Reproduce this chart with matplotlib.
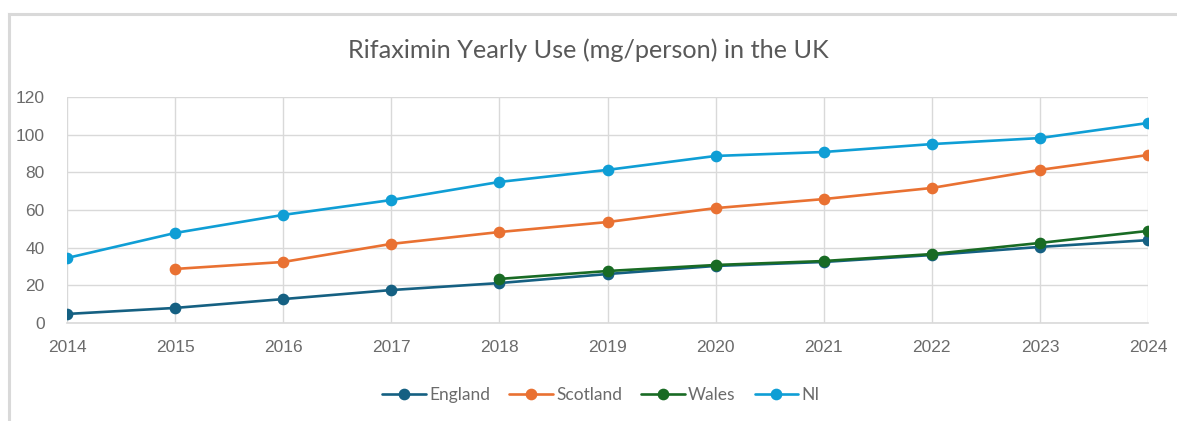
import matplotlib.pyplot as plt
from matplotlib.lines import Line2D

years = [2014, 2015, 2016, 2017, 2018, 2019, 2020, 2021, 2022, 2023, 2024]
england = [4.8, 8.0, 12.7, 17.5, 21.2, 26.0, 30.3, 32.4, 36.1, 40.4, 44.0]
scotland = [None, 28.7, 32.4, 42.0, 48.3, 53.6, 61.0, 65.8, 71.7, 81.3, 89.2]
wales = [None, None, None, None, 23.4, 27.6, 30.8, 32.9, 36.6, 42.5, 48.9]
ni = [34.5, 47.8, 57.4, 65.3, 74.9, 81.3, 88.7, 90.8, 95.0, 98.2, 106.2]

series_names = ["England", "Scotland", "Wales", "NI"]
series_values = [england, scotland, wales, ni]
series_colors = ["#156082", "#E97132", "#196B24", "#0F9ED5"]
y_ticks = [0, 20, 40, 60, 80, 100, 120]

plt.rcParams['font.family'] = ['Lato', 'DejaVu Sans']

W, H = 1177, 421
fig = plt.figure(figsize=(W / 100, H / 100), dpi=100)

# chart frame (top and left edges)
fig.add_artist(Line2D([9 / W, 1.0], [1 - 14 / H, 1 - 14 / H], color="#d9d9d9", lw=2.2))
fig.add_artist(Line2D([9 / W, 9 / W], [0, 1 - 14 / H], color="#d9d9d9", lw=2.2))

left, right, top, bottom = 67, 1148, 97, 323
ax = fig.add_axes([left / W, 1 - bottom / H, (right - left) / W, (bottom - top) / H])

for name, vals, col in zip(series_names, series_values, series_colors):
    xs = [x for x, v in zip(years, vals) if v is not None]
    ys = [v for v in vals if v is not None]
    ax.plot(xs, ys, color=col, lw=1.9, marker="o", markersize=7.4,
            label=name, zorder=3, solid_capstyle="round")

ax.set_xlim(years[0], years[-1])
ax.set_ylim(0, 120)
ax.set_xticks(years)
ax.set_yticks(y_ticks)
ax.grid(True, color="#d9d9d9", lw=1.0, zorder=0)
for s in ["top", "right", "left"]:
    ax.spines[s].set_visible(False)
ax.spines["bottom"].set_color("#d9d9d9")
ax.spines["bottom"].set_linewidth(1.2)
ax.tick_params(axis="both", length=0, colors="#6b6b6b")
for lab in ax.get_xticklabels() + ax.get_yticklabels():
    lab.set_fontfamily(["Liberation Sans", "DejaVu Sans"])
    lab.set_fontsize(12.5)
ax.tick_params(axis="x", pad=12)
ax.tick_params(axis="y", pad=16)

fig.text(0.5, 1 - 50 / H, "Rifaximin Yearly Use (mg/person) in the UK",
         ha="center", va="center", fontsize=18.2, color="#595959")

handles, labels = ax.get_legend_handles_labels()
fig.legend(handles, labels, loc="center", bbox_to_anchor=(601 / W, 1 - 395 / H),
           ncol=4, frameon=False, prop={"size": 12.5}, labelcolor="#6b6b6b",
           handlelength=2.5, handletextpad=0.2, columnspacing=1.1,
           markerscale=1.0)

fig.savefig("out.png", dpi=100, facecolor="white")
